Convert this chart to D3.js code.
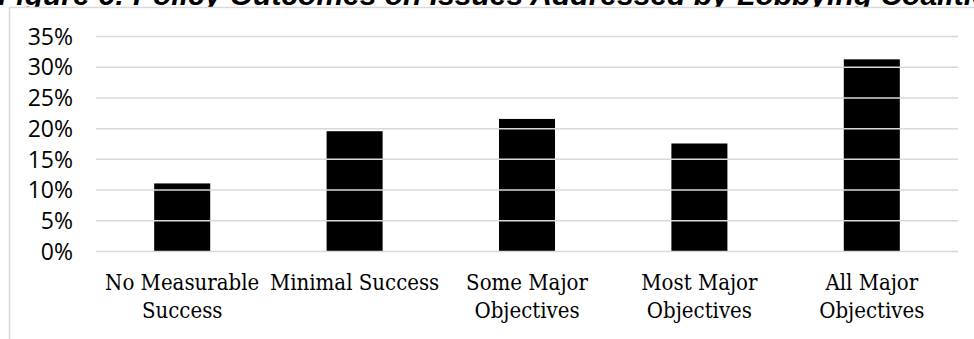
<!DOCTYPE html>
<html>
<head>
<meta charset="utf-8">
<script src="https://cdn.jsdelivr.net/npm/d3@7"></script>
<style>
  body { margin: 0; background: #fff; overflow: hidden; }
  svg { display: block; }
</style>
</head>
<body>
<svg id="chart" width="974" height="339"></svg>
<script>
// data
var categories = ["No Measurable Success", "Minimal Success", "Some Major Objectives", "Most Major Objectives", "All Major Objectives"]
var labelLines = [["No Measurable", "Success"], ["Minimal Success"], ["Some Major", "Objectives"], ["Most Major", "Objectives"], ["All Major", "Objectives"]]
var shares = [0.11, 0.195, 0.215, 0.175, 0.312]
var yTicks = [0, 0.05, 0.10, 0.15, 0.20, 0.25, 0.30, 0.35]
var title = "Figure 6: Policy Outcomes on Issues Addressed by Lobbying Coalitions"

var dims = {
    width: 974,
    height: 339,
    margin: { top: 36, bottom: 88, left: 96, right: 16 }
}

var svg = d3.select("#chart")

// title sits behind the chart area, so only its lower edge shows
svg.append("text")
    .attr("x", -2)
    .attr("y", 5)
    .style("font-family", "'Liberation Sans', Arial, sans-serif")
    .style("font-weight", "bold")
    .style("font-style", "italic")
    .style("font-size", "30px")
    .attr("fill", "#000")
    .text(title)

// chart area frame
svg.append("rect")
    .attr("x", 9.5)
    .attr("y", 7.5)
    .attr("width", 1000)
    .attr("height", 400)
    .attr("fill", "#fff")
    .attr("stroke", "#d9d9d9")
    .attr("stroke-width", 1.5)

var xScale = d3.scaleBand()
    .domain(categories)
    .range([dims.margin.left, dims.width - dims.margin.right])

var yScale = d3.scaleLinear()
    .domain([0, 0.35])
    .range([dims.height - dims.margin.bottom, dims.margin.top])

var barWidth = xScale.bandwidth() * 0.325

// bars
svg.append("g")
    .selectAll("rect")
    .data(shares)
    .enter()
    .append("rect")
    .attr("x", (d, i) => xScale(categories[i]) + (xScale.bandwidth() - barWidth) / 2)
    .attr("y", d => yScale(d))
    .attr("width", barWidth)
    .attr("height", d => yScale(0) - yScale(d))
    .attr("fill", "#000")

// gridlines drawn over the bars like the original
var yAxisGen = d3.axisLeft(yScale)
    .tickValues(yTicks)
    .tickSize(-(dims.width - dims.margin.left - dims.margin.right))
    .tickPadding(23)
    .tickFormat(d3.format(".0%"))

var yAxis = svg.append("g")
    .attr("transform", `translate(${dims.margin.left},0)`)
    .call(yAxisGen)

yAxis.select(".domain").remove()
yAxis.selectAll(".tick line")
    .attr("stroke", "#d9d9d9")
    .attr("stroke-width", 1.5)
yAxis.selectAll(".tick text")
    .style("font-family", "'Open Sans', Lato, sans-serif")
    .style("font-size", "23px")
    .attr("fill", "#000")
    .attr("dy", "0.36em")

// category labels, wrapped like the original
var xLabels = svg.append("g")
    .selectAll("text")
    .data(labelLines)
    .enter()
    .append("text")
    .attr("text-anchor", "middle")
    .style("font-family", "'DejaVu Serif Condensed', 'DejaVu Serif', serif")
    .style("font-stretch", "condensed")
    .style("font-size", "22px")
    .attr("fill", "#000")

xLabels.selectAll("tspan")
    .data((d, i) => d.map(t => ({ t: t, i: i })))
    .enter()
    .append("tspan")
    .attr("x", d => xScale(categories[d.i]) + xScale.bandwidth() / 2)
    .attr("y", (d, j) => 290 + j * 28)
    .text(d => d.t)
</script>
</body>
</html>
